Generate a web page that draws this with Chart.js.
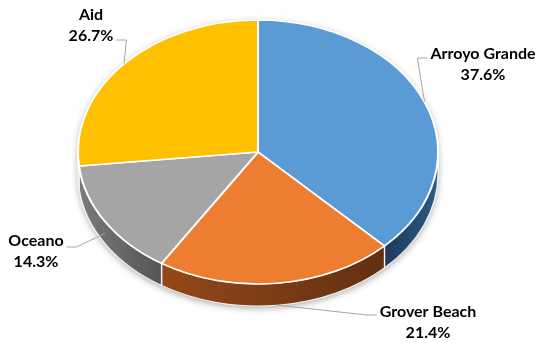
<!DOCTYPE html>
<html>
<head>
<meta charset="utf-8">
<script src="https://cdn.jsdelivr.net/npm/chart.js@4"></script>
<style>
  html, body { margin: 0; padding: 0; background: #fff; }
  #wrap { width: 537px; height: 343px; }
</style>
</head>
<body>
<div id="wrap"><canvas id="pie" width="537" height="343"></canvas></div>
<script>
// data
const labels = ["Arroyo Grande", "Grover Beach", "Oceano", "Aid"];
const shares = [37.6, 21.4, 14.3, 26.7];

// look
const topColors = ["#5B9BD5", "#ED7D31", "#A5A5A5", "#FFC000"];
const sideColors = [["#2d5b86", "#1c3a58"], ["#62300f", "#94481a"], ["#555555", "#7a7a7a"], ["#a07800", "#7a5c00"]];
const RADIUS = 132;
const STRETCH = 180 / 132;
const DEPTH = 22;
// label block centre offset from pie centre, which side the text sits, leader y shift
const labelPlace = [
  [225, -88, 1, -6],
  [170, 170, 1, -7],
  [-222, 99, -1, -4],
  [-167, -127, -1, 15],
];

const pie3d = {
  id: "pie3d",
  beforeDatasetsDraw(chart) {
    const ctx = chart.ctx;
    const arcs = chart.getDatasetMeta(0).data;
    const { x: cx, y: cy, outerRadius: r } = arcs[0];
    ctx.save();
    ctx.translate(cx, 0);
    ctx.scale(STRETCH, 1);
    ctx.translate(-cx, 0);

    // soft shadow under the disc
    ctx.save();
    ctx.shadowColor = "rgba(0,0,0,0.35)";
    ctx.shadowBlur = 7;
    ctx.shadowOffsetY = 2;
    ctx.beginPath();
    ctx.arc(cx, cy, r, Math.PI, 0);
    ctx.arc(cx, cy + DEPTH, r, 0, Math.PI);
    ctx.closePath();
    ctx.fillStyle = "#fff";
    ctx.fill();
    ctx.restore();

    // front sides
    arcs.forEach((arc, i) => {
      const a1 = Math.max(arc.startAngle, 0);
      const a2 = Math.min(arc.endAngle, Math.PI);
      if (a2 <= a1) return;
      const x1 = cx + Math.cos(a1) * r;
      const x2 = cx + Math.cos(a2) * r;
      const g = ctx.createLinearGradient(x1, 0, x2 === x1 ? x1 + 1 : x2, 0);
      g.addColorStop(0, sideColors[i][0]);
      g.addColorStop(1, sideColors[i][1]);
      ctx.beginPath();
      ctx.arc(cx, cy, r, a1, a2);
      ctx.arc(cx, cy + DEPTH, r, a2, a1, true);
      ctx.closePath();
      ctx.fillStyle = g;
      ctx.fill();
      ctx.strokeStyle = "rgba(255,255,255,0.85)";
      ctx.lineWidth = 1;
      ctx.stroke();
    });
  },
  afterDatasetsDraw(chart) {
    chart.ctx.restore();
  },
  afterDraw(chart) {
    const ctx = chart.ctx;
    const arcs = chart.getDatasetMeta(0).data;
    const { x: cx, y: cy, outerRadius: r } = arcs[0];
    ctx.save();
    ctx.font = "bold 16px Lato";
    ctx.textAlign = "center";
    ctx.textBaseline = "middle";
    arcs.forEach((arc, i) => {
      const mid = (arc.startAngle + arc.endAngle) / 2;
      const ax = cx + Math.cos(mid) * r * STRETCH;
      const ay = cy + Math.sin(mid) * r + Math.max(0, Math.sin(mid)) * DEPTH;
      const [ox, oy, side, ldy] = labelPlace[i];
      const tx = cx + ox, ty = cy + oy;
      const l1 = labels[i];
      const l2 = shares[i].toFixed(1) + "%";
      const w = Math.max(ctx.measureText(l1).width, ctx.measureText(l2).width);
      const edgeX = side < 0 ? tx + w / 2 + 3 : tx - w / 2 - 3;
      const ly = ty + ldy;
      ctx.strokeStyle = "#a6a6a6";
      ctx.lineWidth = 1;
      ctx.beginPath();
      ctx.moveTo(edgeX, ly);
      ctx.lineTo(edgeX - side * 10, ly);
      ctx.lineTo(ax, ay);
      ctx.stroke();
      ctx.fillStyle = "#000";
      ctx.fillText(l1, tx, ty - 10.5);
      ctx.fillText(l2, tx, ty + 11);
    });
    ctx.restore();
  },
};

new Chart(document.getElementById("pie"), {
  type: "pie",
  data: {
    labels: labels,
    datasets: [
      {
        data: shares,
        backgroundColor: topColors,
        borderColor: "#ffffff",
        borderWidth: 1.5,
        clip: false,
      },
    ],
  },
  options: {
    responsive: false,
    animation: false,
    radius: RADIUS,
    rotation: 0,
    layout: { padding: { top: 20, bottom: 59, left: 0, right: 21 } },
    plugins: {
      legend: { display: false },
      tooltip: { enabled: false },
    },
  },
  plugins: [pie3d],
});
</script>
</body>
</html>
